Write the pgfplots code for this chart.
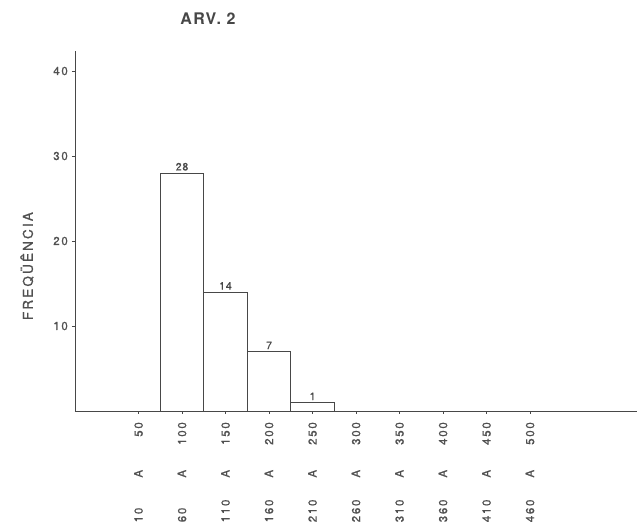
\documentclass[border=0pt]{standalone}
\usepackage{fontspec}
\setmainfont{TeX Gyre Heros}
\usepackage{pgfplots}
\pgfplotsset{compat=1.18}
\definecolor{ink}{HTML}{474747}
\definecolor{lab}{HTML}{505050}
\newcommand{\bin}[2]{\makebox[26pt][l]{#1}\makebox[45pt][c]{A}\makebox[29pt][r]{#2}}
\begin{document}
\begin{tikzpicture}
\path[use as bounding box] (-75pt,-115pt) rectangle (562pt,411pt);
\begin{axis}[
  scale only axis, width=562pt, height=360.4pt,
  xmin=-1.46, xmax=11.46, ymin=0, ymax=42.4,
  axis lines*=left,
  axis line style={ink, line width=0.9pt},
  xtick={0,1,2,3,4,5,6,7,8,9},
  xticklabels={\bin{10}{50},\bin{60}{100},\bin{110}{150},\bin{160}{200},\bin{210}{250},\bin{260}{300},\bin{310}{350},\bin{360}{400},\bin{410}{450},\bin{460}{500}},
  ytick={10,20,30,40},
  tick align=outside, major tick length=3pt,
  tick style={ink, line width=0.9pt},
  /pgf/number format/assume math mode=true,
  xticklabel style={yshift=-8pt, rotate=90, anchor=east, inner sep=0pt,
    font=\fontsize{11.5}{13}\selectfont\addfontfeature{LetterSpace=15,FakeBold=0.8}, text=lab},
  yticklabel style={inner sep=0pt, xshift=-4pt,
    font=\fontsize{11.5}{13}\selectfont\addfontfeature{LetterSpace=15,FakeBold=0.8}, text=lab},
  title={ARV. 2},
  title style={at={(axis description cs:0.2367,1.071)}, anchor=center,
    font=\fontsize{16}{18}\selectfont\bfseries\addfontfeature{LetterSpace=8}, text=ink},
  ylabel={FREQÜÊNCIA},
  ylabel style={at={(axis description cs:-0.0854,0.402)}, anchor=center,
    font=\fontsize{13.5}{15}\selectfont\addfontfeature{LetterSpace=16,FakeBold=1}, text=lab},
]
\addplot[ybar, bar width=1, draw=ink, fill=white, line width=0.9pt,
  nodes near coords,
  nodes near coords style={font=\fontsize{10.5}{12}\selectfont\addfontfeature{LetterSpace=8,FakeBold=0.8}, text=ink, inner sep=2pt}]
  coordinates {(1,28) (2,14) (3,7) (4,1)};
\end{axis}
\end{tikzpicture}
\end{document}
